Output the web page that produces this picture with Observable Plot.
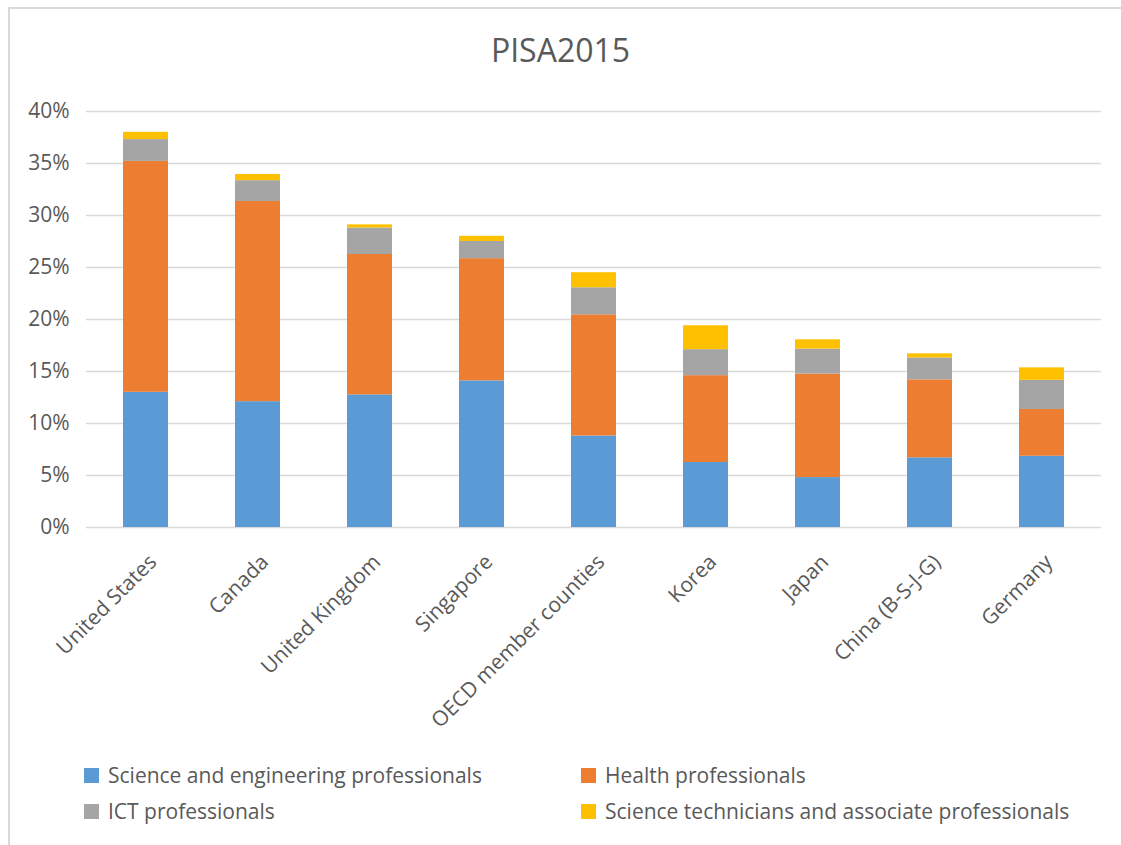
<!DOCTYPE html>
<html>
<head>
<meta charset="utf-8">
<script src="https://cdn.jsdelivr.net/npm/d3@7"></script>
<script src="https://cdn.jsdelivr.net/npm/@observablehq/plot@0.6"></script>
<style>
  html, body { margin: 0; padding: 0; background: #fff; overflow: hidden; }
  body { font-family: "Open Sans", sans-serif; color: #595959; }
  #wrap { position: relative; width: 1121px; height: 845px; overflow: hidden; background: #fff; }
  #frame { position: absolute; left: 8px; top: 7px; width: 1300px; height: 1000px;
           border-top: 2px solid #d9d9d9; border-left: 2px solid #d9d9d9; }
  #title { position: absolute; left: 0; top: 34px; width: 1121px; text-align: center;
           font-size: 32px; line-height: 32px; color: #595959; }
  #chart { position: absolute; left: 0; top: 80px; }
  .leg { position: absolute; font-size: 21px; line-height: 21px; color: #595959; white-space: nowrap; }
  .sw { position: absolute; width: 15px; height: 15px; }
</style>
</head>
<body>
<div id="wrap">
  <div id="frame"></div>
  <div id="title">PISA2015</div>
  <div id="chart"></div>
  <div id="legend"></div>
</div>
<script>
// ---- data (percent) ----
const countries = ["United States", "Canada", "United Kingdom", "Singapore", "OECD member counties", "Korea", "Japan", "China (B-S-J-G)", "Germany"];
const seriesNames = ["Science and engineering professionals", "Health professionals", "ICT professionals", "Science technicians and associate professionals"];
const seriesColors = ["#5B9BD5", "#ED7D31", "#A5A5A5", "#FFC000"];
const scienceEngineering = [13.0, 12.1, 12.75, 14.1, 8.8, 6.25, 4.8, 6.7, 6.85];
const health = [22.2, 19.25, 13.5, 11.75, 11.65, 8.35, 9.95, 7.5, 4.5];
const ict = [2.1, 2.0, 2.55, 1.65, 2.6, 2.5, 2.4, 2.1, 2.8];
const technicians = [0.7, 0.6, 0.3, 0.5, 1.45, 2.3, 0.9, 0.4, 1.2];
const yTicks = [0, 5, 10, 15, 20, 25, 30, 35, 40];

const seriesValues = [scienceEngineering, health, ict, technicians];
const rows = [];
countries.forEach((c, i) => {
  seriesNames.forEach((s, j) => rows.push({country: c, series: s, value: seriesValues[j][i]}));
});

const chart = Plot.plot({
  width: 1121,
  height: 670,
  marginTop: 31,
  marginBottom: 223,
  marginLeft: 86,
  marginRight: 20,
  style: {fontFamily: "Open Sans", fontSize: "21px", color: "#595959", background: "transparent"},
  x: {domain: countries, paddingInner: 0.6, paddingOuter: 0.3, label: null},
  y: {domain: [0, 40], label: null},
  color: {domain: seriesNames, range: seriesColors},
  marks: [
    Plot.gridY(yTicks, {stroke: "#d9d9d9", strokeOpacity: 1, strokeWidth: 1.5}),
    Plot.barY(rows, {x: "country", y: "value", fill: "series"}),
    Plot.axisY(yTicks, {tickSize: 0, tickPadding: 17, tickFormat: d => d + "%", label: null}),
    Plot.axisX({tickSize: 0, tickRotate: -45, tickPadding: 31, dx: 7, label: null})
  ]
});
document.getElementById("chart").appendChild(chart);

// legend
const legend = document.getElementById("legend");
const legPos = [
  {sx: 84, tx: 108, sy: 768, ty: 765},
  {sx: 581, tx: 605, sy: 768, ty: 765},
  {sx: 84, tx: 108, sy: 804, ty: 801},
  {sx: 581, tx: 605, sy: 804, ty: 801}
];
seriesNames.forEach((s, i) => {
  const p = legPos[i];
  const sw = document.createElement("div");
  sw.className = "sw";
  sw.style.left = p.sx + "px"; sw.style.top = p.sy + "px"; sw.style.background = seriesColors[i];
  const t = document.createElement("div");
  t.className = "leg";
  t.style.left = p.tx + "px"; t.style.top = p.ty + "px";
  t.textContent = s;
  legend.appendChild(sw); legend.appendChild(t);
});
</script>
</body>
</html>
